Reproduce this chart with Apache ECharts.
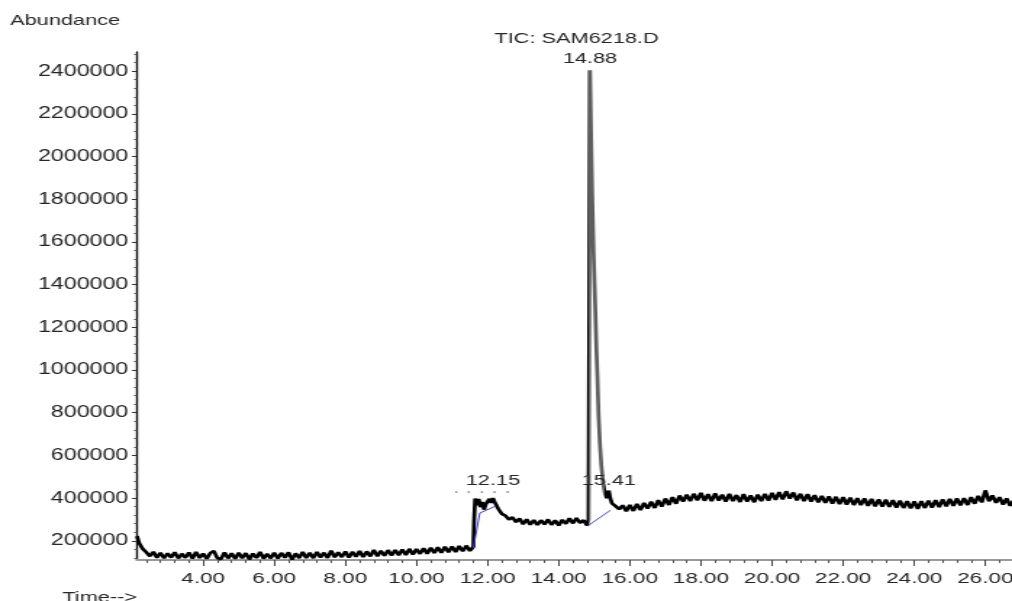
<!DOCTYPE html>
<html>
<head>
<meta charset="utf-8">
<title>TIC: SAM6218.D</title>
<script src="https://cdn.jsdelivr.net/npm/echarts@6/dist/echarts.min.js"></script>
<style>
  html, body { margin: 0; padding: 0; background: #fff; overflow: hidden; }
  /* the printout is stretched sideways, so draw it narrow and widen it */
  #chart { width: 698px; height: 601px; transform: scaleX(1.44986); transform-origin: 0 0; }
</style>
</head>
<body>
<div id="chart"></div>
<script>
// retention time (min)
var times = [
  // drift before the first peak
  2.14, 2.2, 2.3, 2.4, 2.5, 2.6, 2.7, 2.8, 2.9, 3.0,
  3.1, 3.2, 3.3, 3.4, 3.5, 3.6, 3.7, 3.8, 3.9, 4.0,
  4.1, 4.2, 4.3, 4.4, 4.5, 4.6, 4.7, 4.8, 4.9, 5.0,
  5.1, 5.2, 5.3, 5.4, 5.5, 5.6, 5.7, 5.8, 5.9, 6.0,
  6.1, 6.2, 6.3, 6.4, 6.5, 6.6, 6.7, 6.8, 6.9, 7.0,
  7.1, 7.2, 7.3, 7.4, 7.5, 7.6, 7.7, 7.8, 7.9, 8.0,
  8.1, 8.2, 8.3, 8.4, 8.5, 8.6, 8.7, 8.8, 8.9, 9.0,
  9.1, 9.2, 9.3, 9.4, 9.5, 9.6, 9.7, 9.8, 9.9, 10.0,
  10.1, 10.2, 10.3, 10.4, 10.5, 10.6, 10.7, 10.8, 10.9, 11.0,
  11.1, 11.2, 11.3, 11.4, 11.5, 11.6,
  // 12.15 group
  11.62, 11.65, 11.7, 11.75, 11.8, 11.85, 11.9, 11.95, 12.0, 12.05,
  12.1, 12.15, 12.2, 12.25, 12.3, 12.35, 12.4, 12.5, 12.6, 12.7,
  12.8, 12.9, 13.0, 13.1, 13.2, 13.3, 13.4, 13.5, 13.6, 13.7,
  13.8, 13.9, 14.0, 14.1, 14.2, 14.3, 14.4, 14.5, 14.6, 14.7, 14.8,
  // main peak 14.88 and 15.41
  14.84, 14.86, 14.88, 14.91, 14.94, 14.98, 15.03, 15.06, 15.09, 15.12,
  15.16, 15.2, 15.25, 15.3, 15.35, 15.41, 15.45, 15.5, 15.6, 15.7,
  // rest of the run
  15.8, 15.9, 16.0, 16.1, 16.2, 16.3, 16.4, 16.5, 16.6, 16.7,
  16.8, 16.9, 17.0, 17.1, 17.2, 17.3, 17.4, 17.5, 17.6, 17.7,
  17.8, 17.9, 18.0, 18.1, 18.2, 18.3, 18.4, 18.5, 18.6, 18.7,
  18.8, 18.9, 19.0, 19.1, 19.2, 19.3, 19.4, 19.5, 19.6, 19.7,
  19.8, 19.9, 20.0, 20.1, 20.2, 20.3, 20.4, 20.5, 20.6, 20.7,
  20.8, 20.9, 21.0, 21.1, 21.2, 21.3, 21.4, 21.5, 21.6, 21.7,
  21.8, 21.9, 22.0, 22.1, 22.2, 22.3, 22.4, 22.5, 22.6, 22.7,
  22.8, 22.9, 23.0, 23.1, 23.2, 23.3, 23.4, 23.5, 23.6, 23.7,
  23.8, 23.9, 24.0, 24.1, 24.2, 24.3, 24.4, 24.5, 24.6, 24.7,
  24.8, 24.9, 25.0, 25.1, 25.2, 25.3, 25.4, 25.5, 25.6, 25.7,
  25.8, 25.9, 26.0, 26.1, 26.2, 26.3, 26.4, 26.5, 26.6, 26.7, 26.8
];

// total ion current, same order as times
var abundance = [
  222000, 190000, 162000, 146000, 128000, 148000, 121000, 144000, 119000, 141000,
  122000, 146000, 118000, 139000, 121000, 145000, 117000, 147000, 120000, 140000,
  116000, 143000, 152000, 119000, 114000, 145000, 118000, 141000, 116000, 144000,
  119000, 142000, 113000, 140000, 120000, 147000, 117000, 139000, 118000, 144000,
  117000, 143000, 121000, 146000, 112000, 141000, 119000, 148000, 120000, 143000,
  119000, 147000, 122000, 144000, 120000, 154000, 123000, 146000, 124000, 150000,
  122000, 148000, 126000, 152000, 124000, 150000, 127000, 157000, 128000, 153000,
  130000, 156000, 131000, 157000, 133000, 159000, 134000, 162000, 136000, 161000,
  139000, 165000, 140000, 167000, 143000, 169000, 144000, 172000, 147000, 173000,
  148000, 175000, 151000, 177000, 153000, 172000,

  290000, 398000, 366000, 396000, 358000, 382000, 346000, 372000, 370000, 396000,
  378000, 400000, 382000, 376000, 350000, 344000, 326000, 318000, 300000, 310000,
  288000, 304000, 278000, 300000, 276000, 297000, 274000, 296000, 277000, 300000,
  275000, 296000, 272000, 298000, 280000, 305000, 282000, 306000, 284000, 296000, 272000,

  300000, 1300000, 2405000, 2100000, 1830000, 1550000, 1280000, 1100000, 960000, 790000,
  650000, 550000, 470000, 420000, 400000, 435000, 400000, 375000, 362000, 348000,

  366000, 338000, 368000, 340000, 372000, 344000, 377000, 351000, 383000, 354000,
  390000, 360000, 398000, 368000, 404000, 374000, 412000, 384000, 416000, 386000,
  420000, 390000, 424000, 388000, 418000, 386000, 422000, 389000, 416000, 384000,
  420000, 386000, 414000, 382000, 418000, 384000, 412000, 381000, 416000, 386000,
  420000, 388000, 424000, 392000, 428000, 394000, 432000, 398000, 426000, 390000,
  420000, 386000, 418000, 384000, 414000, 380000, 410000, 378000, 408000, 374000,
  406000, 372000, 404000, 370000, 402000, 368000, 400000, 367000, 398000, 364000,
  396000, 362000, 394000, 360000, 392000, 359000, 390000, 356000, 388000, 354000,
  386000, 352000, 384000, 350000, 386000, 354000, 388000, 356000, 390000, 358000,
  394000, 362000, 396000, 364000, 398000, 366000, 400000, 368000, 404000, 374000,
  410000, 380000, 436000, 386000, 412000, 378000, 404000, 370000, 398000, 364000, 390000
];

// integration baselines (blue)
var baselineA = [[11.6, 167000], [11.78, 330000], [12.22, 362000]];
var baselineB = [[14.8, 268000], [15.45, 342000]];

// labelled peaks
var peakTimes = [12.15, 14.88, 15.41];
// unreadable crowded labels left of 12.15
var crowdedLabelTime = 11.85;

// axis labels
var xTicks = [4, 6, 8, 10, 12, 14, 16, 18, 20, 22, 24, 26];
var yTicks = [200000, 400000, 600000, 800000, 1000000, 1200000, 1400000,
  1600000, 1800000, 2000000, 2200000, 2400000];

var xMin = 2.14, xMax = 26.75, yMin = 110000, yMax = 2490000;
var font = "'Liberation Sans', Arial, sans-serif";
var ink = '#262626';

// minor ticks, 0.4 min and 40000 apart
var minorX = [];
for (var k = -4; 4 + k * 0.4 < xMax; k++) {
  if (k % 5 !== 0) minorX.push(+(4 + k * 0.4).toFixed(2));
}
var minorY = [];
for (var my = 120000; my < yMax; my += 40000) {
  if (my % 200000 !== 0) minorY.push(my);
}

function valueAt(t) {
  return abundance[times.indexOf(t)];
}

var chart = echarts.init(document.getElementById('chart'));

var peakLabelGap = { 12.15: 9, 14.88: 3, 15.41: 2 };

var labelPoints = peakTimes.map(function (t) {
  return {
    coord: [t, valueAt(t)],
    value: t.toFixed(2),
    label: { distance: peakLabelGap[t] }
  };
});
labelPoints.push({
  coord: [crowdedLabelTime, valueAt(crowdedLabelTime)],
  value: '\u00b7  \u00b7  \u00b7  \u00b7  \u00b7',
  label: { distance: 3, fontSize: 10, fontWeight: 'bold', color: '#8a8a8a' }
});

chart.setOption({
  animation: false,
  backgroundColor: '#fff',
  title: [
    { text: 'TIC: SAM6218.D', left: 341, top: 31, padding: 0,
      textStyle: { fontFamily: font, fontSize: 15, fontWeight: 'normal', color: ink } },
    { text: 'Abundance', left: 7, top: 13, padding: 0,
      textStyle: { fontFamily: font, fontSize: 15, fontWeight: 'normal', color: ink } },
    { text: 'Time-->', left: 43, top: 590, padding: 0,
      textStyle: { fontFamily: font, fontSize: 15, fontWeight: 'normal', color: ink } }
  ],
  grid: {
    left: 94.5,
    top: 52,
    width: 603.5,
    height: 508,
    containLabel: false,
    outerBoundsMode: 'none'
  },
  // the tall, thin main peak prints grey in the source, the noisy trace black
  visualMap: {
    type: 'piecewise',
    show: false,
    seriesIndex: 0,
    dimension: 0,
    pieces: [{ gt: 14.83, lte: 15.3, color: '#5e5e5e' }],
    outOfRange: { color: '#000' }
  },
  xAxis: [
    {
      type: 'value',
      min: xMin,
      max: xMax,
      position: 'bottom',
      splitLine: { show: false },
      axisLine: { show: true, lineStyle: { color: '#9a9a9a', width: 2 } },
      axisTick: { show: true, customValues: xTicks, length: 6, lineStyle: { color: '#444', width: 1 } },
      axisLabel: {
        customValues: xTicks,
        formatter: function (v) { return v.toFixed(2); },
        margin: 11,
        fontFamily: font,
        fontSize: 15.5,
        color: ink
      }
    },
    {
      type: 'value',
      min: xMin,
      max: xMax,
      position: 'bottom',
      splitLine: { show: false },
      axisLine: { show: false },
      axisTick: { show: true, customValues: minorX, length: 3, lineStyle: { color: '#555', width: 1 } },
      axisLabel: { show: false }
    }
  ],
  yAxis: [
    {
      type: 'value',
      min: yMin,
      max: yMax,
      position: 'left',
      splitLine: { show: false },
      axisLine: { show: true, lineStyle: { color: '#111', width: 1.4 } },
      axisTick: { show: true, customValues: yTicks, length: 3.5, lineStyle: { color: '#333', width: 1 } },
      axisLabel: {
        customValues: yTicks,
        formatter: function (v) { return String(v); },
        margin: 6,
        fontFamily: font,
        fontSize: 16,
        color: ink
      }
    },
    {
      type: 'value',
      min: yMin,
      max: yMax,
      position: 'left',
      splitLine: { show: false },
      axisLine: { show: false },
      axisTick: { show: true, customValues: minorY, length: 2, lineStyle: { color: '#555', width: 1 } },
      axisLabel: { show: false }
    }
  ],
  series: [
    {
      name: 'TIC',
      type: 'line',
      data: times.map(function (t, i) { return [t, abundance[i]]; }),
      symbol: 'none',
      silent: true,
      lineStyle: { width: 2.7 },
      markPoint: {
        symbol: 'circle',
        symbolSize: 1,
        itemStyle: { color: 'rgba(0,0,0,0)' },
        label: {
          show: true,
          position: 'top',
          fontFamily: font,
          fontSize: 15,
          color: ink,
          formatter: function (p) { return p.value; }
        },
        data: labelPoints
      }
    },
    {
      type: 'line',
      data: baselineA,
      symbol: 'none',
      silent: true,
      lineStyle: { color: '#3c3cc8', width: 1 }
    },
    {
      type: 'line',
      data: baselineB,
      symbol: 'none',
      silent: true,
      lineStyle: { color: '#3c3cc8', width: 1 }
    }
  ]
});
</script>
</body>
</html>
